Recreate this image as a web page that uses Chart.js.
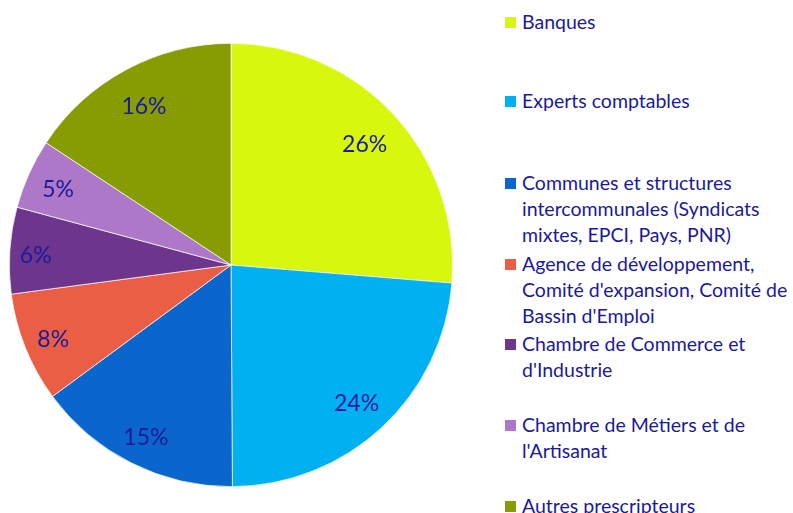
<!DOCTYPE html>
<html>
<head>
<meta charset="utf-8">
<script src="https://cdn.jsdelivr.net/npm/chart.js@4.4.1/dist/chart.umd.min.js"></script>
<style>
  body { margin: 0; background: #fff; width: 793px; height: 513px; overflow: hidden; position: relative; font-family: Lato, "Open Sans", sans-serif; }
  #pieBox { position: absolute; left: 9px; top: 43px; width: 444px; height: 444px; }
  .leg { position: absolute; left: 505px; width: 288px; color: #1a1a9a; font-size: 19.5px; line-height: 26px; white-space: nowrap; }
  .leg .sq { position: absolute; left: 0; top: 8px; width: 11px; height: 11px; }
  .leg .tx { margin-left: 17px; }
</style>
</head>
<body>
<div id="pieBox"><canvas id="pie"></canvas></div>
<div id="legend"></div>
<script>
var categories = [
  "Banques",
  "Experts comptables",
  "Communes et structures<br>intercommunales (Syndicats<br>mixtes, EPCI, Pays, PNR)",
  "Agence de développement,<br>Comité d'expansion, Comité de<br>Bassin d'Emploi",
  "Chambre de Commerce et<br>d'Industrie",
  "Chambre de Métiers et de<br>l'Artisanat",
  "Autres prescripteurs"
];
var shares = [26.3, 23.6, 15.0, 8.0, 6.3, 5.1, 15.7];
var shareLabels = ["26%", "24%", "15%", "8%", "6%", "5%", "16%"];
var colors = ["#d7f70f", "#00b0f0", "#0a66cc", "#ea5e45", "#6e358c", "#ae78c8", "#879b03"];
var legendRows = [22, 101, 183, 264, 344, 425, 506];

document.addEventListener("DOMContentLoaded", function () {
    // legend on the right, built from the same arrays
    var legend = document.getElementById("legend");
    categories.forEach(function (name, i) {
        var row = document.createElement("div");
        row.className = "leg";
        row.style.top = (legendRows[i] - 13) + "px";
        row.innerHTML = '<span class="sq" style="background:' + colors[i] + '"></span><div class="tx">' + name + '</div>';
        legend.appendChild(row);
    });

    // how far out along the radius each percentage sits (best-fit look)
    var labelDepth = [0.82, 0.833, 0.856, 0.865, 0.883, 0.856, 0.829];

    var sliceLabels = {
        id: "sliceLabels",
        afterDatasetsDraw: function (chart) {
            var ctx = chart.ctx;
            var meta = chart.getDatasetMeta(0);
            ctx.save();
            ctx.fillStyle = "#1a1a9a";
            ctx.font = "23px Lato, 'Open Sans', sans-serif";
            ctx.textAlign = "center";
            ctx.textBaseline = "middle";
            meta.data.forEach(function (arc, i) {
                var mid = (arc.startAngle + arc.endAngle) / 2;
                var r = arc.outerRadius * labelDepth[i];
                ctx.fillText(shareLabels[i], arc.x + Math.cos(mid) * r, arc.y + Math.sin(mid) * r + 3);
            });
            ctx.restore();
        }
    };

    new Chart(document.getElementById("pie"), {
        type: "pie",
        data: {
            labels: categories,
            datasets: [{
                data: shares,
                backgroundColor: colors,
                borderColor: "#ffffff",
                borderWidth: 0.7
            }]
        },
        options: {
            responsive: true,
            maintainAspectRatio: false,
            animation: false,
            layout: { padding: 0 },
            plugins: {
                legend: { display: false },
                tooltip: { enabled: false }
            }
        },
        plugins: [sliceLabels]
    });
});
</script>
</body>
</html>
